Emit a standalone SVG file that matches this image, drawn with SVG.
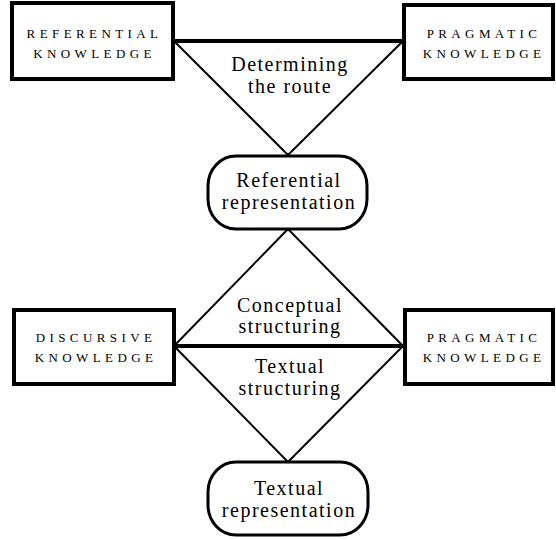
<svg xmlns="http://www.w3.org/2000/svg" width="556" height="540" viewBox="0 0 556 540">
<style>
.box{fill:#fff;stroke:#000;stroke-width:4}
.rbox{fill:#fff;stroke:#000;stroke-width:3}
.thin{stroke:#000;stroke-width:2;fill:none}
.thick{stroke:#000;stroke-width:4;fill:none}
.sc{font-family:"Liberation Serif",serif;font-size:13px;letter-spacing:4.4px;text-anchor:middle;fill:#000}
.lb{font-family:"Liberation Serif",serif;font-size:20px;letter-spacing:1.5px;text-anchor:middle;fill:#000}
</style>
<rect width="556" height="540" fill="#fff"/>
<g id="connectors">
<line class="thick" x1="174" y1="41" x2="403" y2="41"/>
<line class="thin" x1="174" y1="41" x2="288" y2="155"/>
<line class="thin" x1="403" y1="41" x2="288" y2="155"/>
<line class="thin" x1="288" y1="229" x2="174" y2="346"/>
<line class="thin" x1="288" y1="229" x2="403" y2="346"/>
<line class="thick" x1="174" y1="346" x2="403" y2="346"/>
<line class="thin" x1="174" y1="346" x2="288" y2="462"/>
<line class="thin" x1="403" y1="346" x2="288" y2="462"/>
</g>
<g id="referential-knowledge">
<rect class="box" x="12" y="3" width="161" height="76"/>
<text class="sc" x="94.5" y="38">REFERENTIAL</text>
<text class="sc" x="94.5" y="58">KNOWLEDGE</text>
</g>
<g id="pragmatic-knowledge-top">
<rect class="box" x="404" y="5" width="149" height="74"/>
<text class="sc" x="484" y="38">PRAGMATIC</text>
<text class="sc" x="484" y="58">KNOWLEDGE</text>
</g>
<g id="determining-route">
<text class="lb" x="290" y="71">Determining</text>
<text class="lb" x="290" y="93">the route</text>
</g>
<g id="referential-representation">
<rect class="rbox" x="208" y="156" width="159" height="73" rx="28" ry="30"/>
<text class="lb" x="289" y="187">Referential</text>
<text class="lb" x="289" y="209">representation</text>
</g>
<g id="conceptual-structuring">
<text class="lb" x="290" y="312">Conceptual</text>
<text class="lb" x="290" y="333">structuring</text>
</g>
<g id="textual-structuring">
<text class="lb" x="290" y="373">Textual</text>
<text class="lb" x="290" y="395">structuring</text>
</g>
<g id="discursive-knowledge">
<rect class="box" x="14" y="310" width="160" height="74"/>
<text class="sc" x="96" y="342">DISCURSIVE</text>
<text class="sc" x="96" y="362">KNOWLEDGE</text>
</g>
<g id="pragmatic-knowledge-bottom">
<rect class="box" x="405" y="310" width="148" height="74"/>
<text class="sc" x="484" y="342">PRAGMATIC</text>
<text class="sc" x="484" y="362">KNOWLEDGE</text>
</g>
<g id="textual-representation">
<rect class="rbox" x="208" y="462" width="160" height="73" rx="28" ry="30"/>
<text class="lb" x="289" y="495">Textual</text>
<text class="lb" x="289" y="517">representation</text>
</g>
</svg>
